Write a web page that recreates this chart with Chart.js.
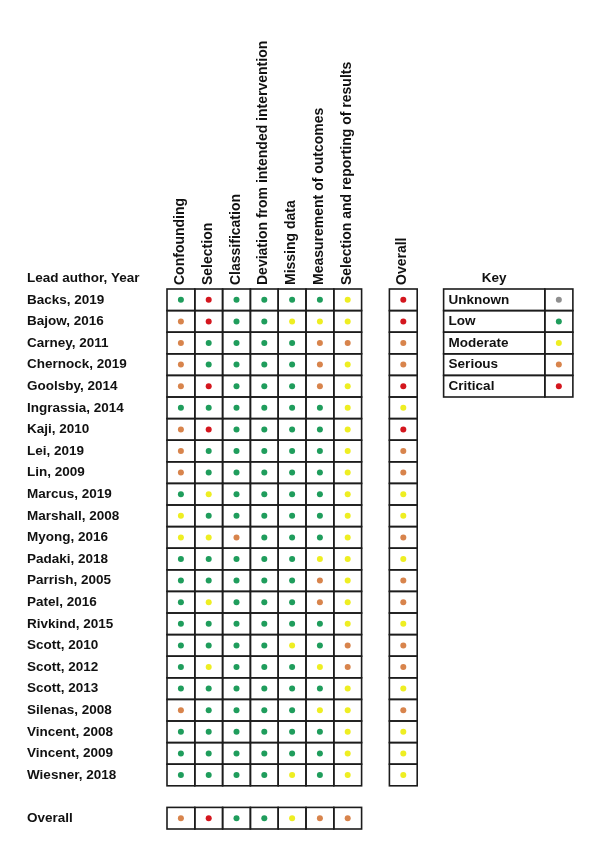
<!DOCTYPE html>
<html>
<head>
<meta charset="utf-8">
<script src="https://cdn.jsdelivr.net/npm/chart.js@4.4.1/dist/chart.umd.min.js"></script>
<style>
  body { margin: 0; background: #fff; }
</style>
</head>
<body>
<canvas id="chart" width="603" height="853"></canvas>
<script>
const studies = [
    'Backs, 2019', 'Bajow, 2016', 'Carney, 2011', 'Chernock, 2019', 'Goolsby, 2014',
    'Ingrassia, 2014', 'Kaji, 2010', 'Lei, 2019', 'Lin, 2009', 'Marcus, 2019',
    'Marshall, 2008', 'Myong, 2016', 'Padaki, 2018', 'Parrish, 2005', 'Patel, 2016',
    'Rivkind, 2015', 'Scott, 2010', 'Scott, 2012', 'Scott, 2013', 'Silenas, 2008',
    'Vincent, 2008', 'Vincent, 2009', 'Wiesner, 2018'
]
const domains = [
    'Confounding', 'Selection', 'Classification', 'Deviation from intended intervention',
    'Missing data', 'Measurement of outcomes', 'Selection and reporting of results'
]
// one string per study, one letter per domain: L low, M moderate, S serious, C critical
const judgements = [
    'LCLLLLM', 'SCLLMMM', 'SLLLLSS', 'SLLLLSM', 'SCLLLSM',
    'LLLLLLM', 'SCLLLLM', 'SLLLLLM', 'SLLLLLM', 'LMLLLLM',
    'MLLLLLM', 'MMSLLLM', 'LLLLLMM', 'LLLLLSM', 'LMLLLSM',
    'LLLLLLM', 'LLLLMLS', 'LMLLLMS', 'LLLLLLM', 'SLLLLMM',
    'LLLLLLM', 'LLLLLLM', 'LLLLMLM'
]
const overallStudy = 'CCSSCMCSSMMSMSSMSSMSMMM'
const overallDomain = 'SCLLMSS'
const levels = ['Unknown', 'Low', 'Moderate', 'Serious', 'Critical']
const levelCodes = ['U', 'L', 'M', 'S', 'C']

const colors = {U: '#8f8f8f', L: '#1f9d5c', M: '#eeee22', S: '#d8844c', C: '#d4161e'}
const overallCol = 8
const overallRow = 24
const keyLeft = 9.45, keyMid = 13.09, keyRight = 14.1

function buildPoints(code) {
    const pts = []
    judgements.forEach((row, r) => {
        row.split('').forEach((j, c) => { if (j === code) pts.push({x: c, y: r}) })
        if (overallStudy[r] === code) pts.push({x: overallCol, y: r})
    })
    overallDomain.split('').forEach((j, c) => { if (j === code) pts.push({x: c, y: overallRow}) })
    // key swatch
    pts.push({x: (keyMid + keyRight) / 2, y: levelCodes.indexOf(code)})
    return pts
}

const tablePlugin = {
    id: 'table',
    afterDraw(chart) {
        const ctx = chart.ctx
        const xs = chart.scales.x, ys = chart.scales.y
        const box = (x0, x1, y0, y1) => {
            const l = xs.getPixelForValue(x0), r = xs.getPixelForValue(x1)
            const t = ys.getPixelForValue(y0), b = ys.getPixelForValue(y1)
            ctx.strokeRect(l, t, r - l, b - t)
        }
        ctx.save()
        ctx.strokeStyle = '#1c1c1c'
        ctx.lineWidth = 1.6
        studies.forEach((s, r) => {
            domains.forEach((d, c) => box(c - 0.5, c + 0.5, r - 0.5, r + 0.5))
            box(overallCol - 0.5, overallCol + 0.5, r - 0.5, r + 0.5)
        })
        domains.forEach((d, c) => box(c - 0.5, c + 0.5, overallRow - 0.5, overallRow + 0.5))
        levels.forEach((lv, i) => {
            box(keyLeft, keyMid, i - 0.5, i + 0.5)
            box(keyMid, keyRight, i - 0.5, i + 0.5)
        })

        ctx.fillStyle = '#111'
        ctx.font = 'bold 13.5px "Liberation Sans", Arial, sans-serif'
        ctx.textBaseline = 'middle'
        ctx.textAlign = 'left'
        ctx.fillText('Lead author, Year', 27, ys.getPixelForValue(-1))
        studies.forEach((s, r) => ctx.fillText(s, 27, ys.getPixelForValue(r)))
        ctx.fillText('Overall', 27, ys.getPixelForValue(overallRow))
        levels.forEach((lv, i) => ctx.fillText(lv, xs.getPixelForValue(keyLeft) + 5, ys.getPixelForValue(i)))
        ctx.textAlign = 'center'
        ctx.fillText('Key', xs.getPixelForValue((keyLeft + keyMid) / 2), ys.getPixelForValue(-1))

        // rotated headers
        ctx.font = 'bold 14px "Liberation Sans", Arial, sans-serif'
        ctx.textAlign = 'left'
        ctx.textBaseline = 'alphabetic'
        const heads = domains.map((d, c) => [d, c]).concat([['Overall', overallCol]])
        heads.forEach(([txt, c]) => {
            ctx.save()
            ctx.translate(xs.getPixelForValue(c) + 3, ys.getPixelForValue(-0.5) - 4)
            ctx.rotate(-Math.PI / 2)
            ctx.fillText(txt, 0, 0)
            ctx.restore()
        })
        ctx.restore()
    }
}

const ctx = document.getElementById('chart').getContext('2d')
new Chart(ctx, {
    type: 'scatter',
    data: {
        datasets: levelCodes.map((code, i) => ({
            label: levels[i],
            data: buildPoints(code),
            backgroundColor: colors[code],
            borderWidth: 0,
            pointRadius: 3,
            pointHoverRadius: 3
        }))
    },
    options: {
        responsive: false,
        animation: false,
        layout: {padding: {left: 167, right: 19, top: 289, bottom: 24}},
        plugins: {legend: {display: false}, tooltip: {enabled: false}},
        scales: {
            x: {type: 'linear', min: -0.5, max: 14.5, display: false},
            y: {type: 'linear', min: -0.5, max: 24.5, reverse: true, display: false}
        }
    },
    plugins: [tablePlugin]
})
</script>
</body>
</html>
